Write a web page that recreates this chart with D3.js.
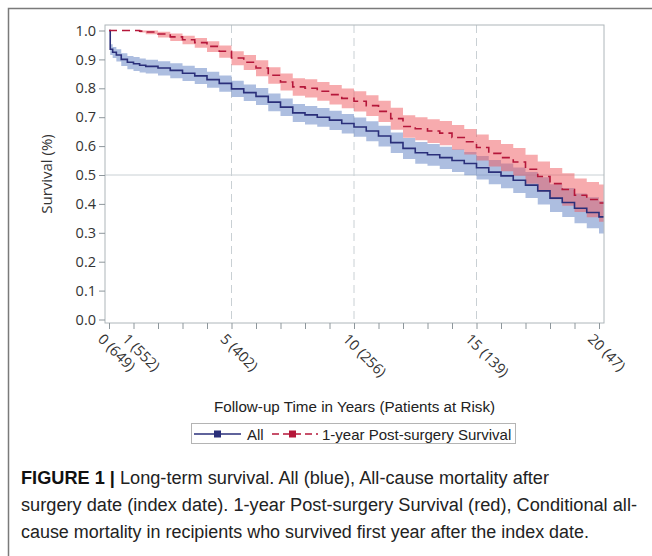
<!DOCTYPE html>
<html>
<head>
<meta charset="utf-8">
<script src="https://cdn.jsdelivr.net/npm/d3@7"></script>
<style>
  body { margin: 0; background: #fff; }
  svg { display: block; }
</style>
</head>
<body>
<div id="chart"></div>
<script>
// follow-up time (years) where the curves are sampled
const times = [0, 0.05, 0.15, 0.3, 0.5, 0.75, 1, 1.25, 1.5, 2, 2.5, 3, 3.5, 4, 4.5, 5, 5.5, 6, 6.5, 7, 7.5, 8, 8.5, 9, 9.5, 10, 10.5, 11, 11.5, 12, 12.5, 13, 13.5, 14, 14.5, 15, 15.5, 16, 16.5, 17, 17.5, 18, 18.5, 19, 19.5, 20, 20.2];

// All (blue)
const allSurv = [1.000, 0.935, 0.925, 0.915, 0.900, 0.890, 0.885, 0.880, 0.876, 0.870, 0.862, 0.852, 0.843, 0.830, 0.817, 0.798, 0.785, 0.772, 0.752, 0.735, 0.715, 0.708, 0.700, 0.690, 0.678, 0.666, 0.652, 0.635, 0.612, 0.592, 0.577, 0.570, 0.560, 0.550, 0.540, 0.525, 0.510, 0.497, 0.482, 0.465, 0.445, 0.420, 0.405, 0.385, 0.370, 0.355, 0.355];
const allLower = [1.000, 0.915, 0.905, 0.893, 0.877, 0.866, 0.860, 0.855, 0.851, 0.844, 0.835, 0.825, 0.815, 0.802, 0.788, 0.770, 0.756, 0.742, 0.721, 0.704, 0.683, 0.675, 0.667, 0.656, 0.644, 0.632, 0.617, 0.599, 0.576, 0.555, 0.539, 0.532, 0.521, 0.510, 0.499, 0.484, 0.468, 0.454, 0.438, 0.420, 0.398, 0.372, 0.355, 0.333, 0.316, 0.298, 0.295];
const allUpper = [1.000, 0.952, 0.943, 0.935, 0.921, 0.912, 0.908, 0.903, 0.899, 0.894, 0.887, 0.878, 0.870, 0.857, 0.844, 0.826, 0.813, 0.801, 0.782, 0.765, 0.746, 0.739, 0.732, 0.722, 0.711, 0.699, 0.686, 0.670, 0.647, 0.628, 0.614, 0.607, 0.598, 0.589, 0.580, 0.566, 0.552, 0.540, 0.526, 0.510, 0.492, 0.468, 0.455, 0.436, 0.423, 0.410, 0.410];

// 1-year Post-surgery Survival (red)
const oneYrSurv = [1.000, 1.000, 1.000, 1.000, 1.000, 1.000, 1.000, 0.998, 0.995, 0.988, 0.978, 0.968, 0.958, 0.945, 0.928, 0.905, 0.890, 0.870, 0.845, 0.822, 0.805, 0.800, 0.790, 0.778, 0.765, 0.755, 0.740, 0.720, 0.695, 0.668, 0.660, 0.652, 0.645, 0.630, 0.615, 0.595, 0.575, 0.560, 0.545, 0.520, 0.495, 0.470, 0.450, 0.430, 0.415, 0.403, 0.403];
const oneYrLower = [1.000, 1.000, 1.000, 1.000, 1.000, 1.000, 1.000, 0.993, 0.987, 0.976, 0.964, 0.952, 0.940, 0.926, 0.906, 0.880, 0.863, 0.842, 0.816, 0.792, 0.774, 0.768, 0.757, 0.744, 0.731, 0.720, 0.704, 0.683, 0.657, 0.629, 0.620, 0.611, 0.603, 0.587, 0.571, 0.550, 0.529, 0.513, 0.497, 0.470, 0.443, 0.416, 0.394, 0.372, 0.354, 0.338, 0.335];
const oneYrUpper = [1.000, 1.000, 1.000, 1.000, 1.000, 1.000, 1.000, 1.000, 1.000, 0.996, 0.990, 0.982, 0.974, 0.963, 0.948, 0.928, 0.915, 0.897, 0.873, 0.851, 0.835, 0.831, 0.822, 0.811, 0.799, 0.790, 0.776, 0.757, 0.733, 0.707, 0.700, 0.693, 0.687, 0.673, 0.659, 0.640, 0.621, 0.607, 0.593, 0.570, 0.547, 0.524, 0.506, 0.488, 0.476, 0.467, 0.465];

const yTicks = [0, 0.1, 0.2, 0.3, 0.4, 0.5, 0.6, 0.7, 0.8, 0.9, 1.0];
const xMinorTicks = d3.range(0, 21);
const xLabelYears = [0, 1, 5, 10, 15, 20];
const xLabelAtRisk = [649, 552, 402, 256, 139, 47];
const xGridYears = [5, 10, 15];

const captionLines = [
  { bold: "FIGURE 1 | ", text: "Long-term survival. All (blue), All-cause mortality after", len: 528 },
  { bold: "", text: "surgery date (index date). 1-year Post-surgery Survival (red), Conditional all-", len: 616 },
  { bold: "", text: "cause mortality in recipients who survived first year after the index date.", len: 568 }
];

const W = 652, H = 556;
const plot = { left: 105, right: 604, top: 25, bottom: 323 };
const chartFont = "'Open Sans', sans-serif";
const textFont = "'Liberation Sans', Arial, sans-serif";

const svg = d3.select("#chart").append("svg")
  .attr("width", W).attr("height", H)
  .attr("viewBox", `0 0 ${W} ${H}`);

// outer figure frame (top + left)
svg.append("path")
  .attr("d", `M8.5,${H + 5} V8.5 H${W + 5}`)
  .attr("fill", "none").attr("stroke", "#7a7a7a").attr("stroke-width", 1.5);

const x = d3.scaleLinear().domain([0, 20]).range([109, 599]);
const y = d3.scaleLinear().domain([0, 1]).range([319.5, 30.5]);

// gridlines
svg.append("g").selectAll("line").data(xGridYears).join("line")
  .attr("x1", d => x(d)).attr("x2", d => x(d))
  .attr("y1", plot.top).attr("y2", plot.bottom)
  .attr("stroke", "#c9d0d4").attr("stroke-dasharray", "8,5");
svg.append("line")
  .attr("x1", plot.left).attr("x2", plot.right)
  .attr("y1", y(0.5)).attr("y2", y(0.5))
  .attr("stroke", "#c9d0d4");

const rowsAll = times.map((t, i) => ({ t, s: allSurv[i], lo: allLower[i], hi: allUpper[i] }));
const rowsOne = times.map((t, i) => ({ t, s: oneYrSurv[i], lo: oneYrLower[i], hi: oneYrUpper[i] }));

const band = d3.area().curve(d3.curveStepAfter)
  .x(d => x(d.t)).y0(d => y(d.lo)).y1(d => y(d.hi));
const line = d3.line().curve(d3.curveStepAfter)
  .x(d => x(d.t)).y(d => y(d.s));

svg.append("path").datum(rowsAll).attr("d", band)
  .attr("fill", "#6a88c6").attr("fill-opacity", 0.55);
svg.append("path").datum(rowsOne).attr("d", band)
  .attr("fill", "#f0585e").attr("fill-opacity", 0.5);

svg.append("path").datum(rowsAll).attr("d", line)
  .attr("fill", "none").attr("stroke", "#2a2f7a").attr("stroke-width", 1.6);
svg.append("path").datum(rowsOne).attr("d", line)
  .attr("fill", "none").attr("stroke", "#b5173a").attr("stroke-width", 1.6)
  .attr("stroke-dasharray", "8,5");

// plot frame
svg.append("rect")
  .attr("x", plot.left).attr("y", plot.top)
  .attr("width", plot.right - plot.left).attr("height", plot.bottom - plot.top)
  .attr("fill", "none").attr("stroke", "#aeb6ba");

// y axis
const yAxis = svg.append("g")
  .attr("transform", `translate(${plot.left},0)`)
  .call(d3.axisLeft(y).tickValues(yTicks).tickSize(6).tickPadding(3).tickFormat(d3.format(".1f")));
yAxis.select(".domain").remove();
yAxis.selectAll("line").attr("stroke", "#8e979c");
yAxis.selectAll("text").attr("font-family", chartFont)
  .attr("font-size", 14.5).attr("fill", "#333");

// x axis
const xAxis = svg.append("g")
  .attr("transform", `translate(0,${plot.bottom})`)
  .call(d3.axisBottom(x).tickValues(xMinorTicks).tickSize(6).tickFormat(""));
xAxis.select(".domain").remove();
xAxis.selectAll("line").attr("stroke", "#8e979c");

svg.append("g").selectAll("text").data(xLabelYears).join("text")
  .attr("transform", d => `translate(${x(d) - 12},${plot.bottom + 17}) rotate(45)`)
  .attr("font-family", chartFont).attr("font-size", 14.5)
  .attr("fill", "#333")
  .text((d, i) => `${d} (${xLabelAtRisk[i]})`);

// axis titles
svg.append("text")
  .attr("transform", `translate(52,${(plot.top + plot.bottom) / 2}) rotate(-90)`)
  .attr("text-anchor", "middle")
  .attr("font-family", chartFont).attr("font-size", 15).attr("fill", "#333")
  .text("Survival (%)");

svg.append("text")
  .attr("x", (plot.left + plot.right) / 2).attr("y", 412)
  .attr("text-anchor", "middle")
  .attr("font-family", textFont).attr("font-size", 15.2).attr("fill", "#222")
  .text("Follow-up Time in Years (Patients at Risk)");

// legend
const lg = svg.append("g");
lg.append("rect").attr("x", 191.5).attr("y", 423.5).attr("width", 324).attr("height", 20)
  .attr("fill", "#fff").attr("stroke", "#b4b4b4");
const ly = 434;
lg.append("line").attr("x1", 194).attr("x2", 241).attr("y1", ly).attr("y2", ly)
  .attr("stroke", "#2a2f7a").attr("stroke-width", 1.6);
lg.append("rect").attr("x", 214).attr("y", ly - 3.5).attr("width", 7).attr("height", 7).attr("fill", "#2a2f7a");
lg.append("text").attr("x", 247).attr("y", ly + 5.5)
  .attr("font-family", textFont).attr("font-size", 15).attr("fill", "#222")
  .text("All");
lg.append("line").attr("x1", 272).attr("x2", 318).attr("y1", ly).attr("y2", ly)
  .attr("stroke", "#b5173a").attr("stroke-width", 1.6).attr("stroke-dasharray", "7,4");
lg.append("rect").attr("x", 289).attr("y", ly - 3.5).attr("width", 7).attr("height", 7).attr("fill", "#b5173a");
lg.append("text").attr("x", 322).attr("y", ly + 5.5)
  .attr("font-family", textFont).attr("font-size", 15).attr("fill", "#222")
  .text("1-year Post-surgery Survival");

// caption
const cap = svg.append("g");
captionLines.forEach((c, i) => {
  const t = cap.append("text")
    .attr("x", 21).attr("y", 484 + i * 27)
    .attr("font-family", textFont).attr("font-size", 18).attr("fill", "#222")
    .attr("textLength", c.len).attr("lengthAdjust", "spacingAndGlyphs");
  if (c.bold) t.append("tspan").attr("font-weight", "bold").attr("fill", "#111").text(c.bold);
  t.append("tspan").text(c.text);
});
</script>
</body>
</html>
